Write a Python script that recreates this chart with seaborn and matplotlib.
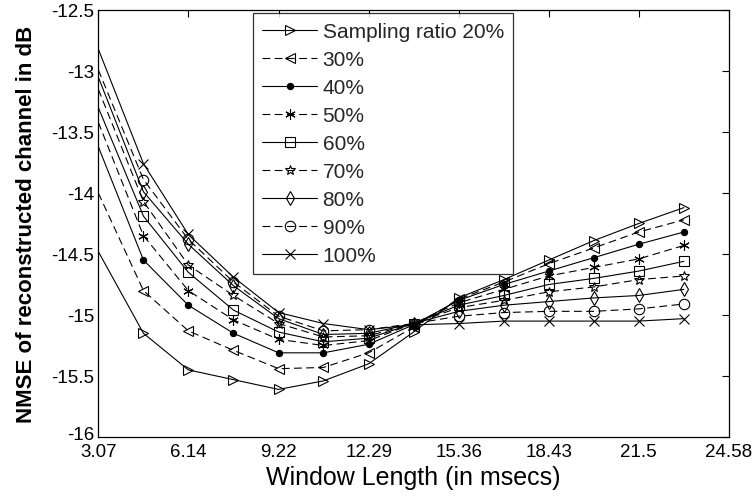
import numpy as np
import pandas as pd
import matplotlib
matplotlib.use("Agg")
import matplotlib.pyplot as plt
import matplotlib.transforms as mtransforms
import seaborn as sns

# ---- data ----
window_ms = [3.07, 4.61, 6.14, 7.68, 9.22, 10.75, 12.29, 13.82, 15.36, 16.90, 18.43, 19.97, 21.50, 23.04]
labels = ["Sampling ratio 20%", "30%", "40%", "50%", "60%", "70%", "80%", "90%", "100%"]
nmse_20 = [-14.48, -15.15, -15.45, -15.53, -15.61, -15.54, -15.40, -15.14, -14.86, -14.71, -14.55, -14.39, -14.25, -14.12]
nmse_30 = [-14.00, -14.80, -15.13, -15.29, -15.44, -15.43, -15.31, -15.10, -14.87, -14.73, -14.58, -14.45, -14.32, -14.22]
nmse_40 = [-13.62, -14.55, -14.92, -15.15, -15.31, -15.31, -15.24, -15.08, -14.88, -14.75, -14.64, -14.53, -14.42, -14.32]
nmse_50 = [-13.42, -14.35, -14.80, -15.04, -15.20, -15.25, -15.21, -15.07, -14.90, -14.79, -14.68, -14.61, -14.54, -14.43]
nmse_60 = [-13.30, -14.19, -14.65, -14.96, -15.14, -15.22, -15.19, -15.07, -14.92, -14.84, -14.75, -14.70, -14.64, -14.56]
nmse_70 = [-13.15, -14.07, -14.59, -14.84, -15.07, -15.18, -15.17, -15.07, -14.94, -14.88, -14.81, -14.77, -14.71, -14.68]
nmse_80 = [-13.05, -13.99, -14.42, -14.76, -15.03, -15.16, -15.15, -15.07, -14.97, -14.92, -14.89, -14.86, -14.84, -14.79]
nmse_90 = [-12.99, -13.89, -14.38, -14.73, -15.01, -15.13, -15.12, -15.07, -15.01, -14.98, -14.97, -14.97, -14.95, -14.91]
nmse_100 = [-12.82, -13.76, -14.34, -14.69, -14.98, -15.07, -15.12, -15.08, -15.07, -15.05, -15.05, -15.05, -15.05, -15.03]
series = [nmse_20, nmse_30, nmse_40, nmse_50, nmse_60, nmse_70, nmse_80, nmse_90, nmse_100]
xtick_vals = [3.07, 6.14, 9.22, 12.29, 15.36, 18.43, 21.5, 24.58]
xtick_labels = ["3.07", "6.14", "9.22", "12.29", "15.36", "18.43", "21.5", "24.58"]
ytick_vals = [-16, -15.5, -15, -14.5, -14, -13.5, -13, -12.5]
ytick_labels = ["-16", "-15.5", "-15", "-14.5", "-14", "-13.5", "-13", "-12.5"]

df = pd.DataFrame({
    "x": np.tile(window_ms, len(series)),
    "y": np.concatenate(series),
    "ratio": np.repeat(labels, len(window_ms)),
})

sns.set_theme(style="white")
plt.rcParams["font.family"] = ["Liberation Sans", "DejaVu Sans"]

fig = plt.figure(figsize=(7.55, 5.02), dpi=100)
ax = fig.add_axes([0.1302, 0.1275, 0.8354, 0.8506])

markers = [">", "<", "o", (6, 2, 0), "s", "*", "d", "o", "x"]
msizes = [7.5, 7.5, 4.5, 7.5, 7.5, 7.5, 7.5, 7.5, 7.5]
filled = [False, False, True, True, False, False, False, False, True]
styles = ["-", (0, (7, 4)), "-", (0, (7, 4)), "-", (0, (7, 4)), "-", (0, (7, 4)), "-"]

for i, lab in enumerate(labels):
    sub = df[df["ratio"] == lab]
    sns.lineplot(data=sub, x="x", y="y", ax=ax, color="black", linewidth=0.8,
                 linestyle=styles[i], marker=markers[i], markersize=msizes[i],
                 markerfacecolor=("black" if filled[i] else "none"),
                 markeredgecolor="black", markeredgewidth=0.8,
                 markevery=list(range(1, len(window_ms))), label=lab,
                 legend=False, estimator=None, sort=False)

ax.set_xlim(3.07, 24.58)
ax.set_ylim(-16, -12.5)
ax.set_xticks(xtick_vals)
ax.set_xticklabels(xtick_labels)
ax.set_yticks(ytick_vals)
ax.set_yticklabels(ytick_labels)
ax.tick_params(direction="in", length=5, width=0.8, top=True, right=True,
               labelsize=13.5, colors="black", pad=3)
ax.tick_params(axis="x", pad=4)
for s in ax.spines.values():
    s.set_color("black")
    s.set_linewidth(0.9)
    s.set_visible(True)

# lift the bottom y label slightly so it does not collide with the first x label
lbl = ax.get_yticklabels()[0]
lbl.set_transform(lbl.get_transform() + mtransforms.ScaledTranslation(0, 3 / 72, fig.dpi_scale_trans))

ax.set_xlabel("Window Length (in msecs)", fontsize=18, color="black", labelpad=4)
ax.set_ylabel("NMSE of reconstructed channel in dB", fontsize=16, fontweight="bold",
              color="black", labelpad=10)

handles, labs = ax.get_legend_handles_labels()
leg = ax.legend(handles, labs, loc="upper left", bbox_to_anchor=(0.245, 0.993),
                fontsize=15, frameon=True, fancybox=False, edgecolor="black",
                handlelength=2.65, handletextpad=0.25, labelspacing=0.43,
                borderpad=0.45, borderaxespad=0.0, numpoints=1)
leg.get_frame().set_linewidth(0.9)
leg.get_frame().set_facecolor("white")
for h in leg.legend_handles:
    h.set_markevery([1])

fig.savefig("out.png", dpi=100)
